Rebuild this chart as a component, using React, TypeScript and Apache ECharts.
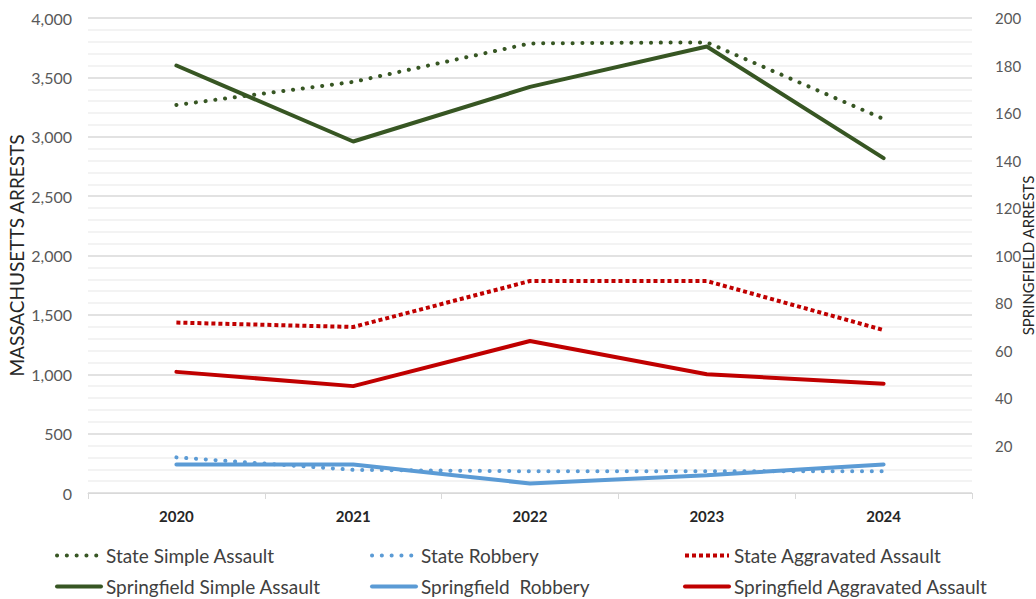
import React, { useEffect, useRef } from "react";
import * as echarts from "echarts";

const years = ["2020", "2021", "2022", "2023", "2024"];

// Left axis (Massachusetts / State)
const stateSimpleAssault = [3268, 3462, 3786, 3795, 3150];
const stateRobbery = [300, 195, 183, 183, 183];
const stateAggravatedAssault = [1435, 1398, 1785, 1785, 1372];

// Right axis (Springfield)
const springfieldSimpleAssault = [180, 148, 171, 188, 141];
const springfieldRobbery = [12, 12, 4, 7.5, 12];
const springfieldAggravatedAssault = [51, 45, 64, 50, 46];

const leftTicks = { min: 0, max: 4000, interval: 500 };
const rightTicks = { min: 0, max: 200, interval: 20 };

const GREEN = "#375623";
const BLUE = "#5b9bd5";
const RED = "#c00000";
const FONT = "Lato, 'Open Sans', sans-serif";

export default function App() {
  const ref = useRef<HTMLDivElement>(null);

  useEffect(() => {
    if (!ref.current) return;
    const chart = echarts.init(ref.current, null, { renderer: "svg" });

    const dotted = (color: string) => ({
      color,
      width: 4,
      type: [0.1, 9.7],
      cap: "round",
    });
    const squareDot = (color: string) => ({
      color,
      width: 4,
      type: [4, 3],
      cap: "butt",
    });
    const solid = (color: string) => ({ color, width: 4, type: "solid", cap: "round" });

    const mk = (name: string, data: number[], yAxisIndex: number, color: string, ls: any, z: number) => ({
      name,
      type: "line",
      data,
      yAxisIndex,
      symbol: "none",
      showSymbol: false,
      color,
      lineStyle: ls,
      z,
    });

    const legendCols = [55, 370, 683];
    const legendRows = [546, 577];
    const legendItems = [
      ["State Simple Assault", 0, 0],
      ["State Robbery", 1, 0],
      ["State Aggravated Assault", 2, 0],
      ["Springfield Simple Assault", 0, 1],
      ["Springfield  Robbery", 1, 1],
      ["Springfield Aggravated Assault", 2, 1],
    ] as const;

    chart.setOption({
      animation: false,
      backgroundColor: "#ffffff",
      textStyle: { fontFamily: FONT },
      grid: {
        left: 88,
        right: 64,
        top: 18,
        bottom: 106,
        containLabel: false,
        outerBoundsMode: "none",
      },
      legend: legendItems.map(([name, c, r]) => ({
        data: [name],
        left: legendCols[c],
        top: legendRows[r],
        itemWidth: 44,
        itemHeight: 14,
        itemGap: 0,
        padding: 0,
        itemStyle: { color: "transparent", borderColor: "transparent", borderWidth: 0 },
        lineStyle: { width: 4 },
        textStyle: { fontFamily: FONT, fontSize: 19, color: "#404040" },
      })),
      xAxis: {
        type: "category",
        data: years,
        boundaryGap: true,
        axisLine: { show: true, lineStyle: { color: "#d9d9d9", width: 1 } },
        axisTick: { show: true, length: 6, lineStyle: { color: "#d9d9d9" } },
        axisLabel: { color: "#262626", fontSize: 15, fontWeight: "bold", margin: 15, fontFamily: FONT },
        splitLine: { show: false },
      },
      yAxis: [
        {
          type: "value",
          ...leftTicks,
          name: "MASSACHUSETTS ARRESTS",
          nameLocation: "middle",
          nameRotate: 90,
          nameGap: 62,
          nameMoveOverlap: false,
          nameTextStyle: { fontSize: 19, color: "#262626", fontFamily: FONT },
          axisLine: { show: false },
          axisTick: { show: false },
          axisLabel: {
            color: "#595959",
            fontSize: 16,
            margin: 16,
            fontFamily: FONT,
            formatter: (v: number) => v.toLocaleString("en-US"),
          },
          splitLine: { show: true, lineStyle: { color: "#d9d9d9", width: 1.5 } },
          minorTick: { show: false, splitNumber: 5 },
          minorSplitLine: { show: true, lineStyle: { color: "#efefef", width: 1.5 } },
        },
        {
          type: "value",
          ...rightTicks,
          name: "SPRINGFIELD ARRESTS",
          nameLocation: "middle",
          nameRotate: 90,
          nameGap: 48,
          nameMoveOverlap: false,
          nameTextStyle: { fontSize: 15, color: "#262626", fontFamily: FONT },
          axisLine: { show: false },
          axisTick: { show: false },
          axisLabel: {
            color: "#595959",
            fontSize: 15,
            margin: 23,
            fontFamily: FONT,
            formatter: (v: number) => (v === 0 ? "" : String(v)),
          },
          splitLine: { show: false },
        },
      ],
      series: [
        mk("State Simple Assault", stateSimpleAssault, 0, GREEN, dotted(GREEN), 3),
        mk("State Robbery", stateRobbery, 0, BLUE, dotted(BLUE), 3),
        mk("State Aggravated Assault", stateAggravatedAssault, 0, RED, squareDot(RED), 3),
        mk("Springfield Simple Assault", springfieldSimpleAssault, 1, GREEN, solid(GREEN), 2),
        mk("Springfield  Robbery", springfieldRobbery, 1, BLUE, solid(BLUE), 2),
        mk("Springfield Aggravated Assault", springfieldAggravatedAssault, 1, RED, solid(RED), 2),
      ],
    });

    return () => chart.dispose();
  }, []);

  return (
    <div
      ref={ref}
      style={{ width: 1036, height: 599, position: "absolute", left: 0, top: 0, background: "#fff" }}
    />
  );
}
